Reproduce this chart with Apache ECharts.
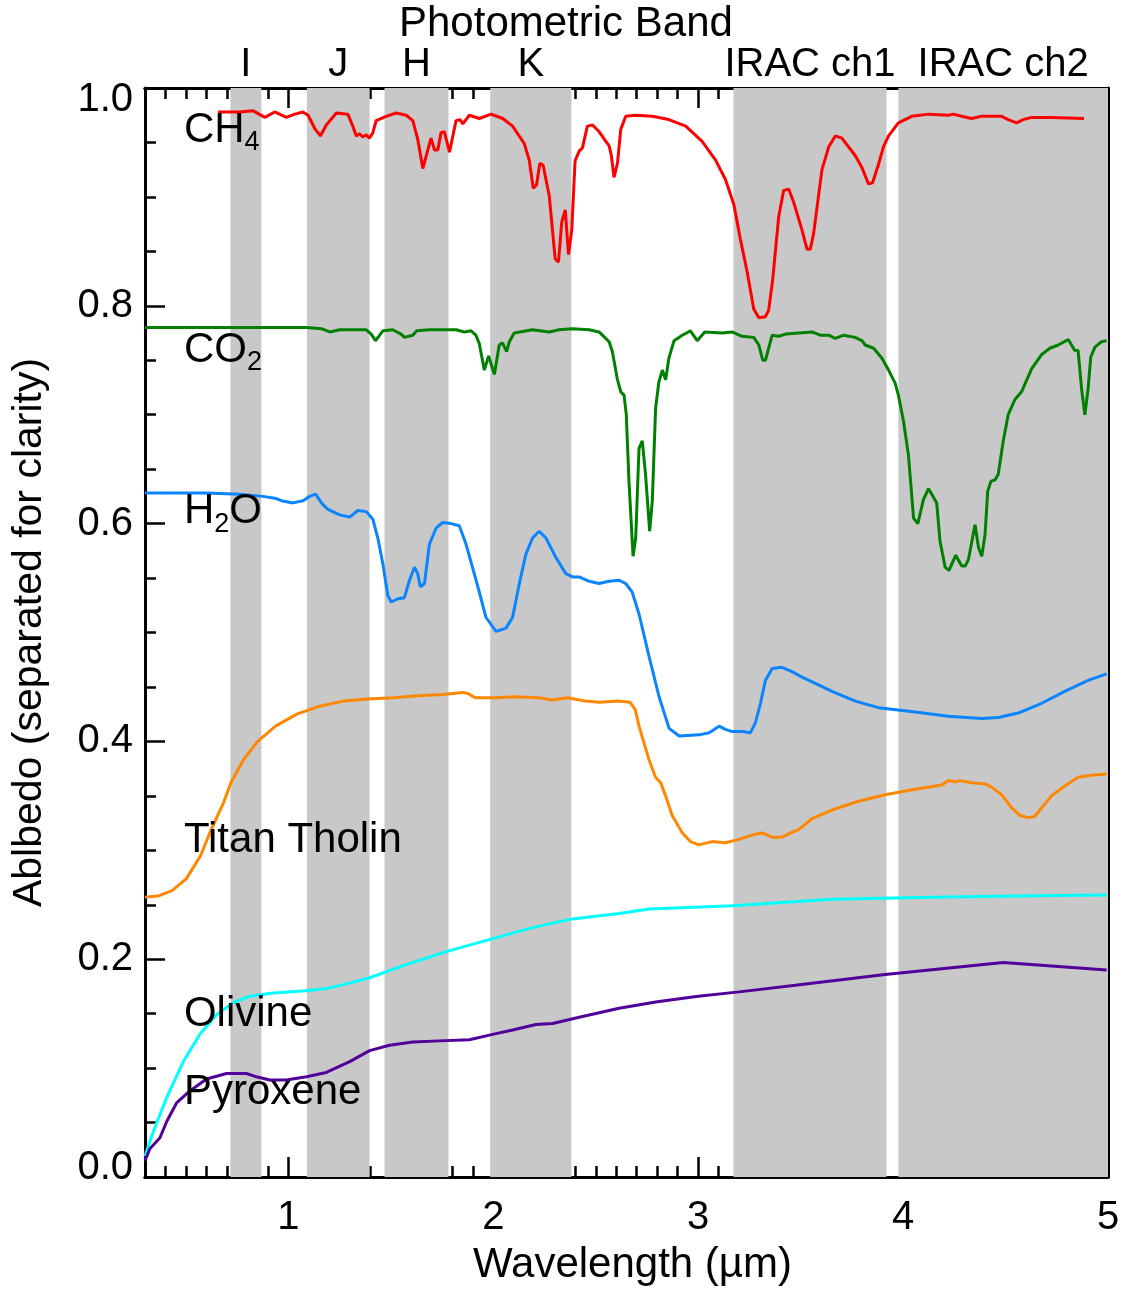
<!DOCTYPE html>
<html>
<head>
<meta charset="utf-8">
<script src="https://cdn.jsdelivr.net/npm/echarts@6/dist/echarts.min.js"></script>
<style>
html, body { margin: 0; padding: 0; background: #fff; }
#main { width: 1125px; height: 1291px; }
</style>
</head>
<body>
<div id="main"></div>
<script>
// spectra: [wavelength (um), albedo]
var ch4 = [
    [0.657,0.978],[0.763,0.978],[0.828,0.979],[0.885,0.973],[0.933,0.978],[0.990,0.973],[1.031,0.976],[1.071,0.978],
    [1.096,0.975],[1.128,0.963],[1.156,0.956],[1.185,0.966],[1.234,0.977],[1.290,0.976],[1.314,0.965],[1.331,0.956],
    [1.347,0.958],[1.363,0.955],[1.380,0.957],[1.396,0.954],[1.412,0.959],[1.428,0.970],[1.477,0.974],[1.526,0.977],
    [1.575,0.975],[1.607,0.970],[1.631,0.953],[1.656,0.926],[1.680,0.943],[1.696,0.954],[1.713,0.943],[1.729,0.943],
    [1.745,0.959],[1.761,0.960],[1.786,0.941],[1.818,0.970],[1.838,0.971],[1.851,0.967],[1.883,0.975],[1.932,0.972],
    [1.989,0.976],[2.046,0.972],[2.094,0.965],[2.151,0.949],[2.175,0.934],[2.195,0.908],[2.211,0.911],[2.227,0.931],
    [2.243,0.929],[2.273,0.901],[2.302,0.843],[2.318,0.840],[2.334,0.877],[2.351,0.888],[2.367,0.847],[2.383,0.870],
    [2.399,0.933],[2.419,0.942],[2.435,0.945],[2.459,0.965],[2.484,0.966],[2.516,0.960],[2.549,0.951],[2.565,0.947],
    [2.576,0.938],[2.589,0.918],[2.606,0.931],[2.622,0.962],[2.646,0.974],[2.695,0.975],[2.776,0.974],[2.857,0.971],
    [2.939,0.965],[3.019,0.951],[3.084,0.934],[3.133,0.916],[3.174,0.893],[3.206,0.861],[3.239,0.831],[3.271,0.797],
    [3.296,0.789],[3.328,0.790],[3.344,0.796],[3.364,0.825],[3.393,0.882],[3.417,0.906],[3.442,0.907],[3.466,0.895],
    [3.506,0.870],[3.531,0.852],[3.547,0.852],[3.563,0.866],[3.604,0.925],[3.637,0.946],[3.669,0.956],[3.701,0.954],
    [3.766,0.938],[3.799,0.927],[3.831,0.912],[3.851,0.913],[3.880,0.930],[3.904,0.946],[3.929,0.956],[3.977,0.968],
    [4.042,0.974],[4.124,0.976],[4.221,0.975],[4.245,0.976],[4.286,0.974],[4.334,0.972],[4.383,0.974],[4.481,0.974],
    [4.513,0.971],[4.554,0.968],[4.586,0.971],[4.627,0.973],[4.724,0.973],[4.883,0.972]
];

var co2 = [
    [0.300,0.780],[1.088,0.780],[1.161,0.779],[1.201,0.776],[1.250,0.778],[1.314,0.778],[1.380,0.778],[1.404,0.774],
    [1.425,0.768],[1.461,0.777],[1.509,0.778],[1.550,0.774],[1.566,0.771],[1.607,0.773],[1.626,0.777],[1.688,0.778],
    [1.818,0.778],[1.859,0.776],[1.891,0.777],[1.915,0.773],[1.932,0.765],[1.956,0.741],[1.977,0.754],[2.005,0.737],
    [2.029,0.764],[2.045,0.766],[2.065,0.758],[2.078,0.767],[2.102,0.775],[2.191,0.778],[2.273,0.776],[2.321,0.778],
    [2.386,0.779],[2.468,0.778],[2.516,0.776],[2.565,0.767],[2.581,0.758],[2.605,0.733],[2.622,0.721],[2.638,0.718],
    [2.649,0.700],[2.662,0.639],[2.682,0.570],[2.695,0.587],[2.711,0.669],[2.727,0.676],[2.743,0.645],[2.763,0.593],
    [2.776,0.621],[2.792,0.706],[2.808,0.730],[2.825,0.741],[2.841,0.732],[2.857,0.752],[2.882,0.768],[2.906,0.771],
    [2.922,0.773],[2.962,0.777],[2.995,0.768],[3.032,0.776],[3.117,0.775],[3.165,0.776],[3.214,0.772],[3.271,0.771],
    [3.296,0.764],[3.315,0.750],[3.328,0.750],[3.361,0.773],[3.393,0.772],[3.426,0.774],[3.491,0.775],[3.555,0.776],
    [3.596,0.773],[3.637,0.773],[3.669,0.770],[3.710,0.773],[3.766,0.771],[3.799,0.768],[3.815,0.764],[3.856,0.761],
    [3.896,0.752],[3.929,0.741],[3.961,0.729],[3.977,0.718],[4.002,0.694],[4.026,0.663],[4.051,0.605],[4.072,0.600],
    [4.099,0.622],[4.124,0.632],[4.140,0.627],[4.164,0.619],[4.180,0.584],[4.205,0.560],[4.224,0.557],[4.257,0.571],
    [4.286,0.561],[4.303,0.561],[4.319,0.567],[4.351,0.599],[4.368,0.578],[4.384,0.570],[4.400,0.590],[4.413,0.630],
    [4.429,0.639],[4.448,0.640],[4.464,0.645],[4.489,0.676],[4.513,0.700],[4.546,0.714],[4.578,0.721],[4.627,0.742],
    [4.675,0.755],[4.716,0.761],[4.757,0.764],[4.806,0.769],[4.838,0.759],[4.854,0.759],[4.871,0.724],[4.887,0.700],
    [4.903,0.724],[4.916,0.753],[4.936,0.762],[4.968,0.767],[4.993,0.768]
];

var h2o = [
    [0.300,0.628],[0.600,0.628],[0.763,0.627],[0.876,0.625],[0.941,0.623],[0.966,0.621],[1.022,0.619],[1.071,0.621],
    [1.104,0.625],[1.133,0.627],[1.161,0.619],[1.193,0.613],[1.250,0.608],[1.299,0.606],[1.339,0.612],[1.380,0.611],
    [1.412,0.604],[1.436,0.587],[1.461,0.563],[1.485,0.534],[1.502,0.528],[1.534,0.531],[1.566,0.532],[1.591,0.548],
    [1.615,0.560],[1.631,0.554],[1.644,0.542],[1.664,0.545],[1.688,0.581],[1.721,0.596],[1.753,0.601],[1.794,0.600],
    [1.834,0.598],[1.867,0.581],[1.916,0.548],[1.964,0.514],[2.013,0.501],[2.062,0.504],[2.094,0.514],[2.127,0.545],
    [2.159,0.572],[2.192,0.587],[2.224,0.593],[2.256,0.587],[2.305,0.569],[2.354,0.554],[2.386,0.551],[2.419,0.551],
    [2.468,0.547],[2.516,0.545],[2.565,0.547],[2.614,0.548],[2.646,0.545],[2.678,0.537],[2.711,0.517],[2.760,0.478],
    [2.809,0.441],[2.858,0.412],[2.907,0.405],[3.004,0.406],[3.053,0.408],[3.078,0.411],[3.102,0.414],[3.133,0.411],
    [3.166,0.409],[3.214,0.409],[3.255,0.408],[3.279,0.417],[3.304,0.435],[3.328,0.456],[3.361,0.467],[3.409,0.468],
    [3.458,0.464],[3.507,0.459],[3.653,0.446],[3.767,0.437],[3.880,0.431],[4.059,0.427],[4.221,0.423],[4.383,0.421],
    [4.465,0.422],[4.562,0.426],[4.676,0.435],[4.789,0.446],[4.903,0.456],[4.993,0.462]
];

var tholin = [
    [0.300,0.257],[0.363,0.258],[0.432,0.263],[0.502,0.274],[0.571,0.295],[0.623,0.319],[0.684,0.344],[0.719,0.362],
    [0.780,0.383],[0.850,0.400],[0.937,0.414],[1.041,0.425],[1.146,0.432],[1.267,0.437],[1.389,0.439],[1.511,0.440],
    [1.633,0.442],[1.754,0.443],[1.850,0.445],[1.876,0.444],[1.911,0.440],[2.015,0.440],[2.102,0.441],[2.224,0.440],
    [2.285,0.438],[2.363,0.440],[2.450,0.437],[2.520,0.436],[2.607,0.437],[2.667,0.436],[2.693,0.429],[2.711,0.414],
    [2.760,0.383],[2.792,0.367],[2.817,0.362],[2.841,0.350],[2.873,0.332],[2.922,0.316],[2.962,0.308],[3.003,0.305],
    [3.068,0.308],[3.133,0.307],[3.198,0.310],[3.263,0.314],[3.312,0.316],[3.360,0.312],[3.409,0.312],[3.450,0.316],
    [3.490,0.319],[3.555,0.329],[3.652,0.337],[3.782,0.345],[3.912,0.351],[4.059,0.356],[4.189,0.360],[4.221,0.364],
    [4.253,0.363],[4.278,0.364],[4.334,0.362],[4.399,0.361],[4.432,0.358],[4.481,0.351],[4.530,0.339],[4.570,0.332],
    [4.611,0.330],[4.643,0.331],[4.676,0.339],[4.724,0.350],[4.789,0.359],[4.854,0.367],[4.919,0.369],[4.993,0.370]
];

var olivine = [
    [0.300,0.019],[0.341,0.042],[0.406,0.073],[0.487,0.106],[0.568,0.131],[0.649,0.149],[0.730,0.160],[0.811,0.166],
    [0.925,0.169],[1.088,0.171],[1.185,0.173],[1.299,0.178],[1.396,0.183],[1.575,0.195],[1.770,0.207],[1.980,0.218],
    [2.191,0.229],[2.386,0.237],[2.614,0.242],[2.760,0.246],[3.166,0.249],[3.653,0.255],[4.140,0.257],[4.546,0.258],
    [4.993,0.259]
];

var pyroxene = [
    [0.300,0.015],[0.324,0.026],[0.373,0.036],[0.406,0.051],[0.454,0.068],[0.519,0.079],[0.600,0.090],[0.698,0.095],
    [0.795,0.095],[0.844,0.092],[0.909,0.089],[0.990,0.089],[1.088,0.092],[1.185,0.096],[1.299,0.106],[1.396,0.116],
    [1.493,0.121],[1.607,0.124],[1.737,0.125],[1.883,0.126],[1.997,0.131],[2.094,0.135],[2.208,0.140],[2.289,0.141],
    [2.403,0.146],[2.614,0.155],[2.800,0.161],[3.000,0.166],[3.200,0.170],[3.474,0.176],[3.912,0.186],[4.489,0.197],
    [4.993,0.190]
];

// photometric bands (um)
var bandNames = ['I', 'J', 'H', 'K', 'IRAC ch1', 'IRAC ch2'];
var bandStart = [0.717, 1.090, 1.469, 1.985, 3.172, 3.977];
var bandEnd   = [0.868, 1.396, 1.781, 2.381, 3.919, 5.000];

// curve labels: text, x, y
var labelNames = ['{n|CH}{s|4}', '{n|CO}{s|2}', '{n|H}{s|2}{n|O}', 'Titan Tholin', 'Olivine', 'Pyroxene'];
var labelX = [0.49, 0.49, 0.49, 0.49, 0.49, 0.49];
var labelY = [0.961, 0.759, 0.611, 0.309, 0.149, 0.078];

var majorX = [1, 2, 3, 4, 5];
var minorX = [];
for (var i = 4; i < 50; i++) {
    if (i % 10 !== 0) minorX.push(i / 10);
}

var font = 'Liberation Sans, Arial, Helvetica, sans-serif';
var black = '#000';

var myChart = echarts.init(document.getElementById('main'));

function xAxisDef(pos, ticks, len, withLabels) {
    var ax = {
        type: 'value',
        position: pos,
        min: 0.3,
        max: 5,
        axisLine: { show: withLabels !== null, onZero: false, lineStyle: { color: black, width: 3 } },
        axisTick: { show: true, inside: true, length: len, customValues: ticks, lineStyle: { color: black, width: 2.5 } },
        axisLabel: { show: false },
        splitLine: { show: false }
    };
    if (withLabels) {
        ax.axisLabel = {
            show: true, customValues: ticks, color: black, fontSize: 40, fontFamily: font, margin: 21,
            formatter: function (v) { return String(v); }
        };
        ax.name = 'Wavelength (\u00b5m)';
        ax.nameLocation = 'middle';
        ax.nameGap = 67;
        ax.nameTextStyle = { color: black, fontSize: 42, fontFamily: font, padding: [0, 0, 0, 12] };
    }
    return ax;
}

function yAxisDef(pos, withLabels) {
    var ax = {
        type: 'value',
        position: pos,
        min: 0,
        max: 1,
        interval: 0.2,
        axisLine: { show: true, onZero: false, lineStyle: { color: black, width: 3 } },
        axisTick: { show: true, inside: true, length: 20, lineStyle: { color: black, width: 2.5 } },
        minorTick: { show: true, splitNumber: 4, length: 11, lineStyle: { color: black, width: 2.5 } },
        axisLabel: { show: false },
        splitLine: { show: false },
        minorSplitLine: { show: false }
    };
    if (withLabels) {
        ax.axisLabel = {
            show: true, color: black, fontSize: 40, fontFamily: font, margin: 12,
            formatter: function (v) {
                var s = v.toFixed(1);
                if (v === 0) return '{lo|' + s + '}';
                if (v === 1) return '{hi|' + s + '}';
                return s;
            },
            rich: {
                lo: { fontSize: 40, fontFamily: font, color: black, padding: [0, 0, 19, 0] },
                hi: { fontSize: 40, fontFamily: font, color: black, padding: [24, 0, 0, 0] }
            }
        };
        ax.name = 'Ablbedo (separated for clarity)';
        ax.nameLocation = 'middle';
        ax.nameGap = 95;
        ax.nameTextStyle = { color: black, fontSize: 41, fontFamily: font };
    }
    return ax;
}

function curve(name, data, color, idx) {
    return {
        type: 'line',
        name: name,
        data: data,
        showSymbol: false,
        symbol: 'none',
        z: 3,
        lineStyle: { color: color, width: 3 },
        markPoint: {
            symbol: 'circle',
            symbolSize: 0,
            z: 4,
            label: {
                show: true,
                position: 'right',
                distance: 0,
                color: black,
                fontSize: 42,
                fontFamily: font,
                formatter: labelNames[idx],
                rich: {
                    n: { fontSize: 42, lineHeight: 42, fontFamily: font, color: black, verticalAlign: 'top' },
                    s: { fontSize: 27, lineHeight: 27, fontFamily: font, color: black, verticalAlign: 'top', padding: [20, 0, 0, 0] }
                }
            },
            data: [{ coord: [labelX[idx], labelY[idx]] }]
        }
    };
}

var bandAreas = bandNames.map(function (n, k) {
    return [{ name: n, xAxis: bandStart[k] }, { xAxis: bandEnd[k] }];
});

myChart.setOption({
    animation: false,
    backgroundColor: '#fff',
    title: {
        text: 'Photometric Band',
        left: 399,
        top: 3,
        padding: 0,
        textStyle: { color: black, fontSize: 42, fontWeight: 'normal', fontFamily: font }
    },
    grid: { left: 145, right: 17, top: 88, bottom: 108, containLabel: false },
    xAxis: [
        xAxisDef('bottom', majorX, 20, true),
        xAxisDef('bottom', minorX, 11, false),
        xAxisDef('top', majorX, 20, false),
        xAxisDef('top', minorX, 11, false)
    ],
    yAxis: [
        yAxisDef('left', true),
        yAxisDef('right', false)
    ],
    series: [
        {
            type: 'line',
            name: 'bands',
            data: [],
            z: 1,
            markArea: {
                silent: true,
                itemStyle: { color: '#c8c8c8', opacity: 1 },
                label: { show: true, position: 'top', distance: 3, color: black, fontSize: 40, fontFamily: font },
                data: bandAreas
            }
        },
        curve('CH4', ch4, '#ff0000', 0),
        curve('CO2', co2, '#008000', 1),
        curve('H2O', h2o, '#0a84ff', 2),
        curve('Titan Tholin', tholin, '#ff8800', 3),
        curve('Olivine', olivine, '#00ffff', 4),
        curve('Pyroxene', pyroxene, '#520099', 5)
    ]
});
</script>
</body>
</html>
